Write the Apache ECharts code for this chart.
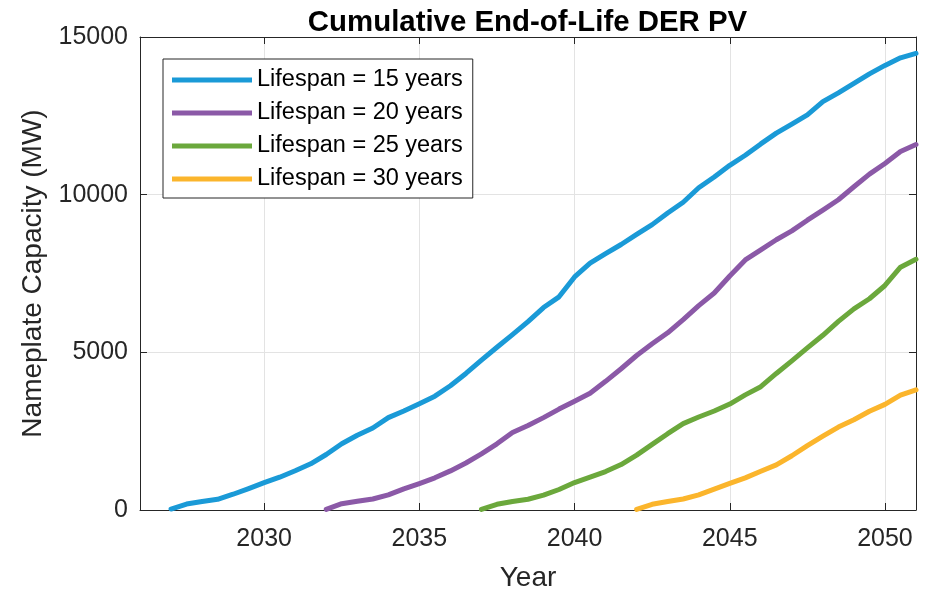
<!DOCTYPE html>
<html>
<head>
<meta charset="utf-8">
<script src="https://cdn.jsdelivr.net/npm/echarts@6/dist/echarts.min.js"></script>
<style>
html,body{margin:0;padding:0;background:#fff;}
#chart{width:927px;height:590px;}
</style>
</head>
<body>
<div id="chart"></div>
<script>
const years = [2027,2027.5,2028,2028.5,2029,2029.5,2030,2030.5,2031,2031.5,2032,2032.5,2033,2033.5,2034,2034.5,2035,2035.5,2036,2036.5,2037,2037.5,2038,2038.5,2039,2039.5,2040,2040.5,2041,2041.5,2042,2042.5,2043,2043.5,2044,2044.5,2045,2045.5,2046,2046.5,2047,2047.5,2048,2048.5,2049,2049.5,2050,2050.5,2051];

const seriesNames = ['Lifespan = 15 years','Lifespan = 20 years','Lifespan = 25 years','Lifespan = 30 years'];

const life15 = [30,190,270,340,500,680,866,1040,1245,1465,1760,2100,2370,2600,2930,3140,3370,3610,3940,4330,4750,5160,5560,5975,6420,6760,7390,7830,8130,8420,8740,9050,9420,9760,10220,10560,10930,11250,11610,11950,12240,12530,12950,13230,13530,13830,14100,14340,14480];

const life20 = [null,null,null,null,null,null,null,null,null,null,20,200,280,350,480,670,840,1020,1240,1490,1780,2100,2460,2680,2930,3200,3450,3700,4080,4480,4900,5270,5620,6040,6480,6880,7420,7930,8250,8570,8850,9190,9510,9840,10250,10650,10990,11370,11590];

const life25 = [null,null,null,null,null,null,null,null,null,null,null,null,null,null,null,null,null,null,null,null,20,180,270,340,470,650,870,1040,1220,1440,1740,2080,2420,2740,2950,3140,3360,3650,3910,4330,4730,5140,5540,5980,6380,6700,7120,7700,7950];

const life30 = [null,null,null,null,null,null,null,null,null,null,null,null,null,null,null,null,null,null,null,null,null,null,null,null,null,null,null,null,null,null,20,180,270,350,480,660,845,1020,1230,1430,1720,2040,2340,2630,2860,3130,3350,3640,3810];

const xTicks = [2030,2035,2040,2045,2050];
const colors = ['#1A9AD7','#8B59A7','#6BA83C','#FBB52C'];

const FONT = "'Liberation Sans', Arial, Helvetica, sans-serif";
const AXC = '#262626';

function pairs(vals){ return years.map((y,i)=>[y, vals[i]]); }
const allVals = [life15, life20, life25, life30];

const chart = echarts.init(document.getElementById('chart'), null, {renderer:'canvas'});
chart.setOption({
  backgroundColor:'#ffffff',
  animation:false,
  title:{
    text:'Cumulative End-of-Life DER PV',
    left:522.5, top:3, textAlign:'center',
    textStyle:{fontFamily:FONT, fontSize:29.4, fontWeight:'bold', color:'#000'}
  },
  grid:{left:140, right:11, top:37, bottom:80, containLabel:false, outerBoundsMode:'none'},
  legend:{
    orient:'vertical', left:163, top:59,
    padding:[9,10,7,9],
    icon:'rect',
    itemWidth:80, itemHeight:5, itemGap:9,
    backgroundColor:'#fff', borderColor:AXC, borderWidth:1, borderRadius:0,
    textStyle:{fontFamily:FONT, fontSize:23.5, lineHeight:24, color:'#000'},
    data:seriesNames
  },
  xAxis:[{
    type:'value', min:2026, max:2051, position:'bottom',
    name:'Year', nameLocation:'middle', nameGap:54,
    nameTextStyle:{fontFamily:FONT, fontSize:28, color:AXC},
    axisLine:{show:true, onZero:false, lineStyle:{color:AXC, width:1}},
    axisTick:{show:true, inside:true, length:7, customValues:xTicks, lineStyle:{color:AXC}},
    axisLabel:{show:true, customValues:xTicks, margin:17, fontFamily:FONT, fontSize:25, color:AXC,
      formatter:(v)=>String(v)},
    splitLine:{show:true, lineStyle:{color:'#e3e3e3', width:1}}
  },{
    type:'value', min:2026, max:2051, position:'top',
    axisLine:{show:true, onZero:false, lineStyle:{color:AXC, width:1}},
    axisTick:{show:true, inside:true, length:7, customValues:xTicks, lineStyle:{color:AXC}},
    axisLabel:{show:false}, splitLine:{show:false}
  }],
  yAxis:[{
    type:'value', min:0, max:15000, interval:5000, position:'left',
    name:'Nameplate Capacity (MW)', nameLocation:'middle', nameGap:88,
    nameTextStyle:{fontFamily:FONT, fontSize:28, color:AXC},
    axisLine:{show:true, onZero:false, lineStyle:{color:AXC, width:1}},
    axisTick:{show:true, inside:true, length:7, lineStyle:{color:AXC}},
    axisLabel:{show:true, margin:12, fontFamily:FONT, fontSize:25, color:AXC,
      formatter:(v)=>String(v)},
    splitLine:{show:true, lineStyle:{color:'#e3e3e3', width:1}}
  },{
    type:'value', min:0, max:15000, interval:5000, position:'right',
    axisLine:{show:true, onZero:false, lineStyle:{color:AXC, width:1}},
    axisTick:{show:true, inside:true, length:7, lineStyle:{color:AXC}},
    axisLabel:{show:false}, splitLine:{show:false}
  }],
  series: seriesNames.map((n,i)=>({
    name:n, type:'line', xAxisIndex:0, yAxisIndex:0,
    data:pairs(allVals[i]), symbol:'none', showSymbol:false,
    smooth:false, connectNulls:false,
    lineStyle:{color:colors[i], width:5, cap:'round', join:'round'},
    itemStyle:{color:colors[i]},
    z:3
  }))
});
</script>
</body>
</html>
